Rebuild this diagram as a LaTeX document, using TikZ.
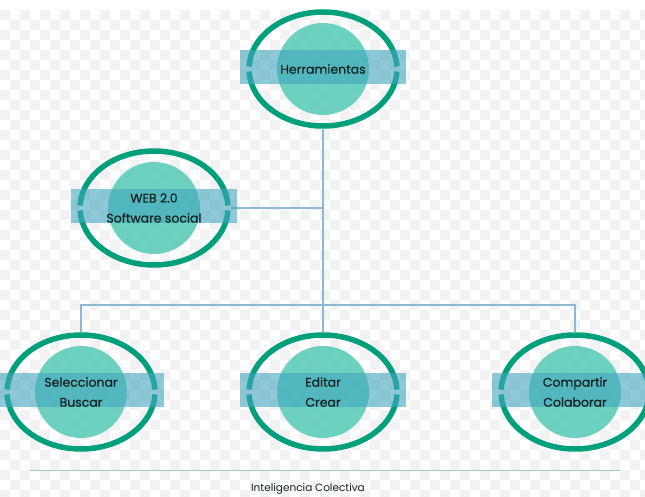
\documentclass[tikz,border=0pt]{standalone}
\usepackage{fontspec}
\setmainfont{Poppins}
\newfontfamily\hubfont{Poppins}[FakeBold=0.6]
\usetikzlibrary{shapes.geometric,calc}

\definecolor{ringgreen}{RGB}{0,160,125}
\definecolor{coreteal}{RGB}{96,206,186}
\definecolor{bandblue}{RGB}{66,166,190}
\definecolor{linkblue}{RGB}{140,185,215}
\definecolor{baseblue}{RGB}{170,195,215}
\definecolor{textdark}{RGB}{22,36,36}
\definecolor{checker}{RGB}{242,242,242}

\tikzset{
  hubshape/.style={ellipse, minimum width=154pt, minimum height=120pt, inner sep=0pt},
  ringline/.style={draw=ringgreen, line width=5.5pt},
  core/.style={fill=coreteal, fill opacity=0.92},
  band/.style={fill=bandblue, fill opacity=0.6},
  hubtext/.style={text=textdark, font=\hubfont\fontsize{12.5}{20}\selectfont, align=center, inner sep=0pt},
  link/.style={draw=linkblue, line width=1.1pt},
  baseline rule/.style={draw=baseblue, line width=1pt},
  caption/.style={text=textdark, font=\fontsize{10.5}{12}\selectfont, inner sep=0pt},
}

% one hub: inner disc, split elliptic ring, translucent band and its label
\newcommand\hubnode[3]{%
  \node[hubshape] (#1) at (#2) {};
  \fill[core] (#1.center) circle[radius=46pt];
  \draw[ringline] (#1.center) ++(2.5:74pt and 57pt)
    arc[start angle=2.5, end angle=177.5, x radius=74pt, y radius=57pt];
  \draw[ringline] (#1.center) ++(182.5:74pt and 57pt)
    arc[start angle=182.5, end angle=357.5, x radius=74pt, y radius=57pt];
  \fill[band] (#1.center) ++(-83pt,-15pt) rectangle ++(166pt,34pt);
  \node[hubtext] (#1-label) at (#1.center) {#3};
}

\begin{document}
\begin{tikzpicture}[x=1pt, y=-1pt]
  \useasboundingbox (0,0) rectangle (645,497);

  % faint checkered backdrop
  \fill[white] (0,0) rectangle (645,497);
  \foreach \r in {0,...,48} {
    \pgfmathsetmacro\yy{15+10*\r}
    \pgfmathsetmacro\ph{mod(\r,2)*10}
    \draw[checker, line width=10pt, dash pattern=on 10pt off 10pt, dash phase=\ph pt]
      (0,\yy) -- (645,\yy);
  }

  % anchor positions of the hubs (invisible outlines first, for the links)
  \node[hubshape] (herr) at (323,69) {};
  \node[hubshape] (web)  at (154,208) {};
  \node[hubshape] (sel)  at (81,392) {};
  \node[hubshape] (edi)  at (323,392) {};
  \node[hubshape] (com)  at (575,392) {};
  \coordinate (bus) at (323,305);

  % links
  \draw[link] (herr.south) -- (edi.north);
  \draw[link] (web.east) -- (web.east -| herr.south);
  \draw[link] (sel.north) |- (bus) -| (com.north);

  % hubs
  \hubnode{herr}{323,69}{Herramientas}
  \hubnode{web}{154,208}{WEB 2.0\\Software social}
  \hubnode{sel}{81,392}{Seleccionar\\Buscar}
  \hubnode{edi}{323,392}{Editar\\Crear}
  \hubnode{com}{575,392}{Compartir\\Colaborar}

  % base rule and caption
  \coordinate (baseL) at (30,470);
  \coordinate (baseR) at (620,470);
  \draw[baseline rule] (baseL) -- (baseR);
  \node[caption] (cap) at (308,489) {Inteligencia Colectiva};
\end{tikzpicture}
\end{document}
